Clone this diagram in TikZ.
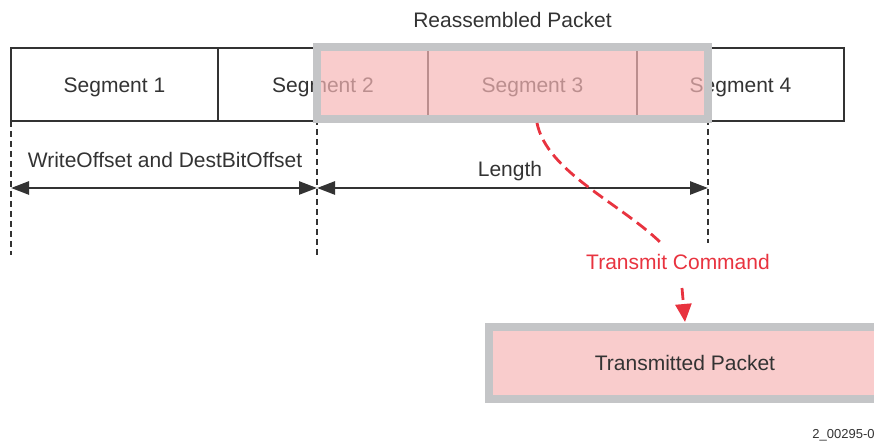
\documentclass[tikz,border=0pt]{standalone}
\usepackage{fontspec}
\setmainfont{Liberation Sans}
\usepackage{xcolor}
\usetikzlibrary{arrows.meta,positioning}
\definecolor{ink}{HTML}{333333}
\definecolor{pinkfill}{RGB}{246,182,182}
\definecolor{rimgray}{HTML}{C4C5C7}
\definecolor{cmdred}{HTML}{E8333F}

\begin{document}
\begin{tikzpicture}[
          x=0.5pt, y=-0.5pt,
          lbl/.style={font=\fontsize{10.5}{12}\selectfont, text=ink},
          seg/.style={lbl, draw=ink, line width=1pt, minimum height=36.5pt, inner sep=0pt, outer sep=0pt, text height=7.6pt, text depth=0pt},
          pkt/.style={lbl, draw=rimgray, line width=4pt, fill=pinkfill, fill opacity=0.7, text opacity=1, inner sep=0pt, outer sep=0pt, text height=7.6pt, text depth=0pt},
          guide/.style={draw=ink, line width=0.8pt, dash pattern=on 3pt off 2pt},
          dim/.style={draw=ink, line width=1.3pt, {Triangle[length=9pt,width=6.5pt]}-{Triangle[length=9pt,width=6.5pt]}},
          cmd/.style={draw=cmdred, line width=1.4pt, dash pattern=on 6pt off 3pt}
      ]
        \useasboundingbox (0,0) rectangle (874,442);
        \clip (0,0) rectangle (874,442);
        % segments of the frame
        \node[seg, minimum width=103.5pt] (seg1) at (114.5,84.5) {Segment 1};
        \node[seg, minimum width=105pt, right=0pt of seg1] (seg2) {Segment 2};
        \node[seg, minimum width=104.5pt, right=0pt of seg2] (seg3) {Segment 3};
        \node[seg, minimum width=103.5pt, right=0pt of seg3] (seg4) {Segment 4};
        \coordinate (g1) at (11,255);
        \coordinate (g2) at (317,255);
        \coordinate (g3) at (708,243);
        \draw[guide] (seg1.south west) -- (g1);
        \draw[guide] (317,119) -- (g2);
        \draw[guide] (708,119) -- (g3);
        % reassembled packet
        \node[pkt, minimum width=195.5pt, minimum height=36pt] (reasm) at (512.5,83) {};
        \node[lbl, above=6pt of reasm] (title) {Reassembled Packet};
        % offsets
        \coordinate (w0) at (11,188);
        \coordinate (w1) at (317,188);
        \coordinate (l1) at (708,188);
        \draw[dim] (w0) -- (w1);
        \draw[dim] (w1) -- (l1);
        \node[lbl] (wlbl) at (165,160) {WriteOffset and DestBitOffset};
        \node[lbl] (llbl) at (510,171) {Length};
        % transmit
        \node[pkt, minimum width=196pt, minimum height=36pt] (tx) at (685,363) {Transmitted Packet};
        \node[lbl, text=cmdred] (tc) at (678,262) {Transmit Command};
        \coordinate (c0) at (537,123);
        \coordinate (c1) at (661,243);
        \coordinate (c2) at (682,288);
        \draw[cmd] (c0) .. controls (547,172) and (620,203) .. (c1);
        \draw[cmd, -{Triangle[length=9pt,width=8pt]}] (c2) -- ([yshift=2.5pt]tx.north);
        \node[font=\fontsize{6.5}{8}\selectfont, text=ink, anchor=west, inner sep=0pt] (figid) at (812,435) {2\_00295-0};
      \end{tikzpicture}
\end{document}
